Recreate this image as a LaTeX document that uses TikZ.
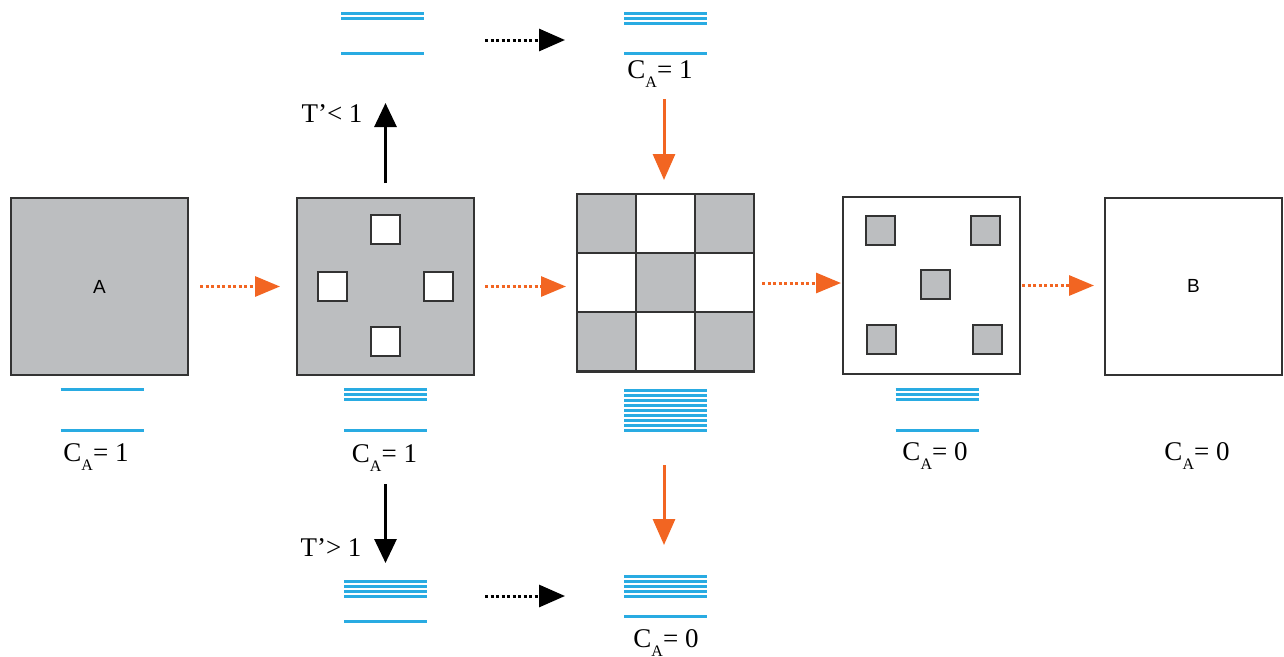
\documentclass[tikz,border=0pt]{standalone}
\usepackage{fontspec}
\setmainfont{Liberation Serif}
\newfontfamily\boxfont{Liberation Sans}
\usetikzlibrary{arrows.meta}

\definecolor{shade}{HTML}{BCBEC0}
\definecolor{edge}{HTML}{333333}
\definecolor{barblue}{HTML}{29ABE2}
\definecolor{flow}{HTML}{F26522}

\def\boxSize{177}
\def\barHalf{41.5}

% subscript A of the concentration labels
\newcommand\lowA{\raisebox{-9pt}{\fontsize{16}{16}\selectfont A}}

% name, centre x, first bar y, number of close bars, lone bar y
\newcommand\barstack[5]{%
    \foreach \k in {1,...,#4}{%
        \draw [bar] (#2-\barHalf,{#3+5*(\k-1)}) -- (#2+\barHalf,{#3+5*(\k-1)});
    }
    \draw [bar] (#2-\barHalf,#5) -- (#2+\barHalf,#5);
    \node [inner sep=0pt, outer sep=0pt, minimum width=83pt, minimum height=#5pt-#3pt] (#1) at (#2,{(#3+#5)/2}) {};
}

\tikzset{
    sample/.style={draw=edge, line width=2pt, minimum size=\boxSize pt, inner sep=0pt, outer sep=0pt},
    grain/.style={draw=edge, line width=2pt, minimum size=29pt, inner sep=0pt},
    cell/.style={draw=edge, line width=2pt, minimum size=59pt, inner sep=0pt},
    bar/.style={barblue, line width=3pt},
    lbl/.style={anchor=base, inner sep=0pt, font=\fontsize{27}{30}\selectfont},
    flowdots/.style={flow, line width=3pt, dash pattern=on 3pt off 2.5pt, -{Triangle[length=25pt,width=20pt]}},
    blackdots/.style={black, line width=3pt, dash pattern=on 3pt off 2.5pt, -{Triangle[length=26pt,width=22pt]}},
    flowline/.style={flow, line width=3pt, -{Triangle[length=26pt,width=22pt]}},
    quench/.style={black, line width=3pt, -{Triangle[length=24pt,width=22pt]}}
}

\begin{document}
\begin{tikzpicture}[x=1pt,y=-1pt]
    \useasboundingbox (0,0) rectangle (1284,656);

    % the five stages
    \node [sample, fill=shade] (A) at (99.5,286.5) {\boxfont\fontsize{19}{20}\selectfont A};

    \node [sample, fill=shade] (pitted) at (385.5,286.5) {};
    \foreach \dx/\dy [count=\i] in {0/-57,-53/0,53/0,0/55}{%
        \node [grain, fill=white] (hole\i) at ([shift={(\dx,\dy)}]pitted.center) {};
    }

    \foreach \i in {0,1,2}{%
        \foreach \j in {0,1,2}{%
            \pgfmathtruncatemacro\parity{\i+\j}
            \ifodd\parity \def\cellfill{white}\else \def\cellfill{shade}\fi
            \node [cell, fill=\cellfill] (cell\i\j) at (606.5+59*\i,223.5+59*\j) {};
        }
    }
    \node [sample, minimum height=178pt] (checker) at (665.5,283) {};

    \node [sample] (islands) at (931.5,285.5) {};
    \foreach \dx/\dy [count=\i] in {-51.5/-55,53.5/-55,3.5/-1.5,-50.5/53.5,55.5/53.5}{%
        \node [grain, fill=shade] (island\i) at ([shift={(\dx,\dy)}]islands.center) {};
    }

    \node [sample] (B) at (1193.5,286) {\boxfont\fontsize{19}{20}\selectfont B};

    % level schemes
    \barstack{levA}{102}{389}{1}{430}
    \barstack{levPitted}{385.5}{389}{3}{430}
    \barstack{levChecker}{665.5}{390}{8}{430}
    \barstack{levIslands}{937}{389}{3}{430}
    \barstack{levSlowA}{382.5}{13}{2}{53}
    \barstack{levSlowB}{665.5}{13}{3}{53}
    \barstack{levFastA}{385.5}{581}{4}{621}
    \barstack{levFastB}{665.5}{576}{5}{616}

    % labels
    \node [lbl] (caA) at (96,461) {C\lowA= 1};
    \node [lbl] (caPitted) at (384.5,462) {C\lowA= 1};
    \node [lbl] (caIslands) at (935,460) {C\lowA= 0};
    \node [lbl] (caB) at (1197,460) {C\lowA= 0};
    \node [lbl] (caSlow) at (660,78) {C\lowA= 1};
    \node [lbl] (caFast) at (666,647) {C\lowA= 0};
    \node [lbl] (tSlow) at (332,122) {T’< 1};
    \node [lbl] (tFast) at (331,556) {T’> 1};

    % time steps
    \draw [flowdots, shorten <=12pt, shorten >=17pt] (A.east) -- (pitted.west);
    \draw [flowdots, shorten <=11pt, shorten >=11pt] (pitted.east) -- (pitted.east -| checker.west);
    \draw [flowdots, shorten <=8pt, shorten >=2pt] (checker.east) -- (checker.east -| islands.west);
    \draw [flowdots, shorten <=2pt, shorten >=11pt] (islands.east) -- (islands.east -| B.west);

    \draw [quench, shorten <=15pt, shorten >=50pt] (pitted.north) -- (pitted.north |- levSlowA.south);
    \draw [quench, shorten <=109pt, shorten >=18pt] (pitted.south) -- (pitted.south |- levFastA.north);
    \draw [blackdots, shorten <=61pt, shorten >=59pt] ([yshift=-7pt]levSlowA.east) -- ([yshift=-7pt]levSlowB.west);
    \draw [blackdots, shorten <=58pt, shorten >=59pt] (levFastA.east |- levFastB.west) -- (levFastB.west);

    \draw [flowline, shorten <=46pt, shorten >=14pt] ([xshift=-1.5pt]levSlowB.south) -- ([xshift=-1.5pt]checker.north);
    \draw [flowline, shorten <=93pt, shorten >=31pt] ([xshift=-1.5pt]checker.south) -- ([xshift=-1.5pt]levFastB.north);
\end{tikzpicture}
\end{document}
